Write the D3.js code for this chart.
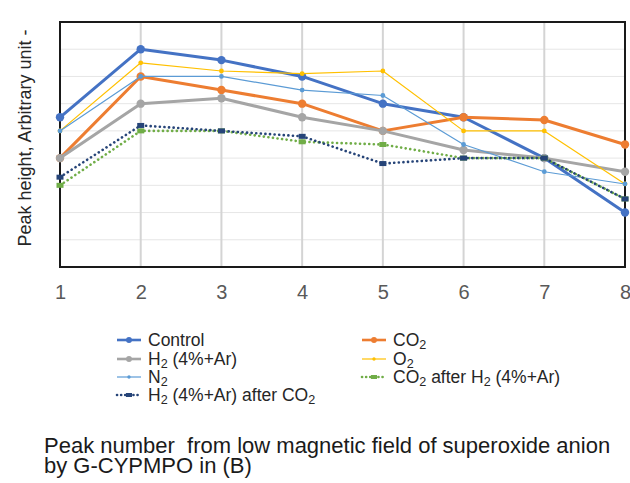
<!DOCTYPE html>
<html>
<head>
<meta charset="utf-8">
<script src="https://cdn.jsdelivr.net/npm/d3@7"></script>
<style>
  body { margin: 0; background: #fff; }
  svg { font-family: "Liberation Sans", Arial, sans-serif; }
</style>
</head>
<body>
<div id="chart"></div>
<script>
// peak numbers on the x axis
const peaks = [1, 2, 3, 4, 5, 6, 7, 8];

// peak heights (arbitrary units)
const control = [5.5, 8.0, 7.6, 7.0, 6.0, 5.5, 4.0, 2.0];
const co2 = [4.0, 7.0, 6.5, 6.0, 5.0, 5.5, 5.4, 4.5];
const h2 = [4.0, 6.0, 6.2, 5.5, 5.0, 4.3, 4.0, 3.5];
const o2 = [5.0, 7.5, 7.2, 7.1, 7.2, 5.0, 5.0, 3.05];
const n2 = [5.0, 7.0, 7.0, 6.5, 6.3, 4.5, 3.5, 3.05];
const co2AfterH2 = [3.0, 5.0, 5.0, 4.6, 4.5, 4.0, 4.0, 2.5];
const h2AfterCo2 = [3.3, 5.2, 5.0, 4.8, 3.8, 4.0, 4.0, 2.5];

// legend text, split into [text, subscript] pieces
const seriesNames = [
  [['Control', false]],
  [['CO', false], ['2', true]],
  [['H', false], ['2', true], [' (4%+Ar)', false]],
  [['O', false], ['2', true]],
  [['N', false], ['2', true]],
  [['CO', false], ['2', true], [' after H', false], ['2', true], [' (4%+Ar)', false]],
  [['H', false], ['2', true], [' (4%+Ar) after CO', false], ['2', true]],
];

const series = [
  { values: control, color: '#4472c4', width: 3, marker: 'circle', r: 4.2 },
  { values: co2, color: '#ed7d31', width: 3, marker: 'circle', r: 4.2 },
  { values: h2, color: '#a5a5a5', width: 3, marker: 'circle', r: 4.2 },
  { values: o2, color: '#ffc000', width: 1.2, marker: 'circle', r: 2.4 },
  { values: n2, color: '#5b9bd5', width: 1.2, marker: 'circle', r: 2.4 },
  { values: co2AfterH2, color: '#70ad47', width: 2.6, marker: 'square', r: 3, dash: '0.1 4.5' },
  { values: h2AfterCo2, color: '#264478', width: 2.6, marker: 'square', r: 3, dash: '0.1 4.5' },
];
series.forEach((s, i) => { s.name = seriesNames[i]; });

const width = 630;
const height = 483;
const margin = { top: 22, right: 5, bottom: 216, left: 60 };

const svg = d3.select('#chart').append('svg')
  .attr('width', width)
  .attr('height', height);

const x = d3.scaleLinear()
  .domain([1, 8])
  .range([margin.left, width - margin.right]);

const y = d3.scaleLinear()
  .domain([0, 9])
  .range([height - margin.bottom, margin.top]);

// horizontal gridlines
svg.append('g')
  .selectAll('line')
  .data(d3.range(1, 9))
  .join('line')
  .attr('x1', x(1))
  .attr('x2', x(8))
  .attr('y1', (d) => y(d))
  .attr('y2', (d) => y(d))
  .attr('stroke', '#e6e6e6')
  .attr('stroke-width', 1);

// vertical gridlines
svg.append('g')
  .selectAll('line')
  .data(peaks.slice(1, -1))
  .join('line')
  .attr('x1', (d) => x(d))
  .attr('x2', (d) => x(d))
  .attr('y1', y(9))
  .attr('y2', y(0))
  .attr('stroke', '#d4d4d4')
  .attr('stroke-width', 2);

// frame
svg.append('rect')
  .attr('x', x(1))
  .attr('y', y(9))
  .attr('width', x(8) - x(1))
  .attr('height', y(0) - y(9))
  .attr('fill', 'none')
  .attr('stroke', '#1a1a1a')
  .attr('stroke-width', 2);

// x axis tick labels
const xAxis = d3.axisBottom(x)
  .tickValues(peaks)
  .tickSize(0)
  .tickPadding(18)
  .tickFormat(d3.format('d'));

svg.append('g')
  .attr('transform', `translate(0,${y(0)})`)
  .call(xAxis)
  .call((g) => g.select('.domain').remove())
  .call((g) => g.selectAll('text')
    .attr('font-size', 20)
    .attr('font-family', '"Liberation Sans", Arial, sans-serif')
    .attr('fill', '#595959'));

const line = d3.line()
  .x((d, i) => x(peaks[i]))
  .y((d) => y(d));

series.forEach((s) => {
  const g = svg.append('g');
  g.append('path')
    .datum(s.values)
    .attr('d', line)
    .attr('fill', 'none')
    .attr('stroke', s.color)
    .attr('stroke-width', s.width)
    .attr('stroke-linecap', s.dash ? 'round' : 'butt')
    .attr('stroke-linejoin', 'round')
    .attr('stroke-dasharray', s.dash || null);

  if (s.marker === 'circle') {
    g.selectAll('circle')
      .data(s.values)
      .join('circle')
      .attr('cx', (d, i) => x(peaks[i]))
      .attr('cy', (d) => y(d))
      .attr('r', s.r)
      .attr('fill', s.color);
  } else {
    g.selectAll('rect')
      .data(s.values)
      .join('rect')
      .attr('x', (d, i) => x(peaks[i]) - s.r - 0.5)
      .attr('y', (d) => y(d) - s.r + 0.5)
      .attr('width', s.r * 2 + 1)
      .attr('height', s.r * 2 - 1)
      .attr('fill', s.color);
  }
});

// legend
function addLabel(sel, parts, size) {
  parts.forEach(([t, sub]) => {
    sel.append('tspan')
      .attr('font-size', sub ? size * 0.72 : size)
      .attr('baseline-shift', sub ? '-20%' : null)
      .text(t);
  });
}

const legendRows = [340, 359, 377, 395];
const legendCols = [117, 362];
const legend = svg.append('g');
series.forEach((s, i) => {
  const col = i === 6 ? 0 : i % 2;
  const row = i === 6 ? 3 : Math.floor(i / 2);
  const lx = legendCols[col];
  const ly = legendRows[row];
  const item = legend.append('g').attr('transform', `translate(${lx},${ly})`);
  item.append('line')
    .attr('x1', 0)
    .attr('x2', 24)
    .attr('stroke', s.color)
    .attr('stroke-width', Math.min(s.width, 2.6))
    .attr('stroke-linecap', s.dash ? 'round' : 'butt')
    .attr('stroke-dasharray', s.dash ? '0.1 4' : null);
  if (s.marker === 'circle') {
    item.append('circle').attr('cx', 12).attr('r', s.r * 0.7).attr('fill', s.color);
  } else {
    item.append('rect').attr('x', 9).attr('y', -2).attr('width', 6).attr('height', 4).attr('fill', s.color);
  }
  const txt = item.append('text')
    .attr('x', 31)
    .attr('y', 6)
    .attr('fill', '#262626');
  addLabel(txt, s.name, 17.5);
});

// y axis title
svg.append('text')
  .attr('transform', `translate(31,138) rotate(-90)`)
  .attr('text-anchor', 'middle')
  .attr('font-size', 18)
  .attr('fill', '#262626')
  .text('Peak height, Arbitrary unit -');

// x axis title
const xTitle = svg.append('text')
  .attr('font-size', 22)
  .attr('fill', '#1a1a1a');
xTitle.append('tspan')
  .attr('x', 44)
  .attr('y', 453)
  .text('Peak number\u00a0 from low magnetic field of superoxide anion');
xTitle.append('tspan')
  .attr('x', 44)
  .attr('y', 473)
  .text('by G-CYPMPO in (B)');
</script>
</body>
</html>
